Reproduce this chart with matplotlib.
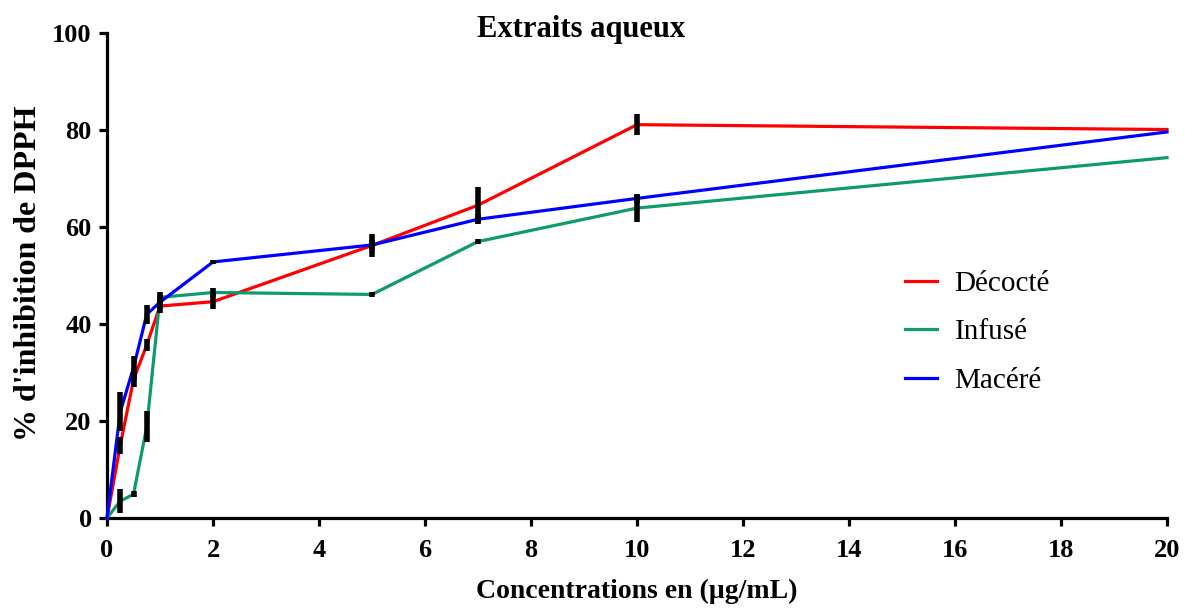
import matplotlib
matplotlib.use('Agg')
import matplotlib.pyplot as plt

plt.rcParams['font.family'] = ['Liberation Serif', 'DejaVu Serif']

conc = [0, 0.25, 0.5, 0.75, 1, 2, 5, 7, 10, 20]

decocte = [0, 15.0, 28.5, 35.7, 43.7, 44.6, 56.2, 64.5, 81.1, 80.1]
decocte_err = [0, 1.8, 1.5, 1.2, 1.5, 1.5, 2.4, 3.7, 2.2, 0]

infuse = [0, 3.5, 4.9, 18.8, 45.5, 46.5, 46.1, 57.0, 63.9, 74.3]
infuse_err = [0, 2.4, 0.6, 3.2, 1.0, 1.0, 0.6, 0.6, 2.8, 0]

macere = [0, 21.9, 31.0, 42.0, 44.5, 52.8, 56.3, 61.6, 65.9, 79.6]
macere_err = [0, 4.0, 2.5, 1.9, 1.5, 0.5, 1.0, 1.0, 1.0, 0]

fig = plt.figure(figsize=(11.85, 6.08), dpi=100)
ax = fig.add_axes([0.0903, 0.148, 0.8945, 0.7977])

series = [
    (decocte, decocte_err, '#FF0000', u'Décocté'),
    (infuse, infuse_err, '#0E9A6A', u'Infusé'),
    (macere, macere_err, '#0000FF', u'Macéré'),
]
for y, err, col, lab in series:
    ax.plot(conc, y, color=col, lw=2.3, label=lab, clip_on=False, zorder=3)
    ax.errorbar(conc, y, yerr=err, fmt='none', ecolor='black', elinewidth=4,
                capsize=0, clip_on=False, zorder=4)

ax.set_xlim(0, 20)
ax.set_ylim(0, 100)
ax.set_xticks(range(0, 21, 2))
ax.set_yticks(range(0, 101, 20))
for s in ['top', 'right']:
    ax.spines[s].set_visible(False)
for s in ['left', 'bottom']:
    ax.spines[s].set_linewidth(2.3)
ax.tick_params(width=2.3, length=6, labelsize=19)
ax.tick_params(axis='x', pad=9)
ax.tick_params(axis='y', pad=5)
for t in ax.get_xticklabels() + ax.get_yticklabels():
    t.set_fontweight('bold')

ax.set_xlabel('Concentrations en (µg/mL)', fontsize=20, fontweight='bold', labelpad=12)
fig.text(0.024, 0.55, "% d'inhibition de DPPH", fontsize=23, fontweight='bold',
         rotation=90, ha='center', va='center')
fig.text(0.49, 0.952, 'Extraits aqueux', fontsize=22, fontweight='bold', ha='center', va='center')

leg = ax.legend(loc='center left', bbox_to_anchor=(0.728, 0.383), frameon=False,
                fontsize=21, handlelength=1.1, labelspacing=0.75, handletextpad=0.6)

fig.savefig('out.png', dpi=100)
